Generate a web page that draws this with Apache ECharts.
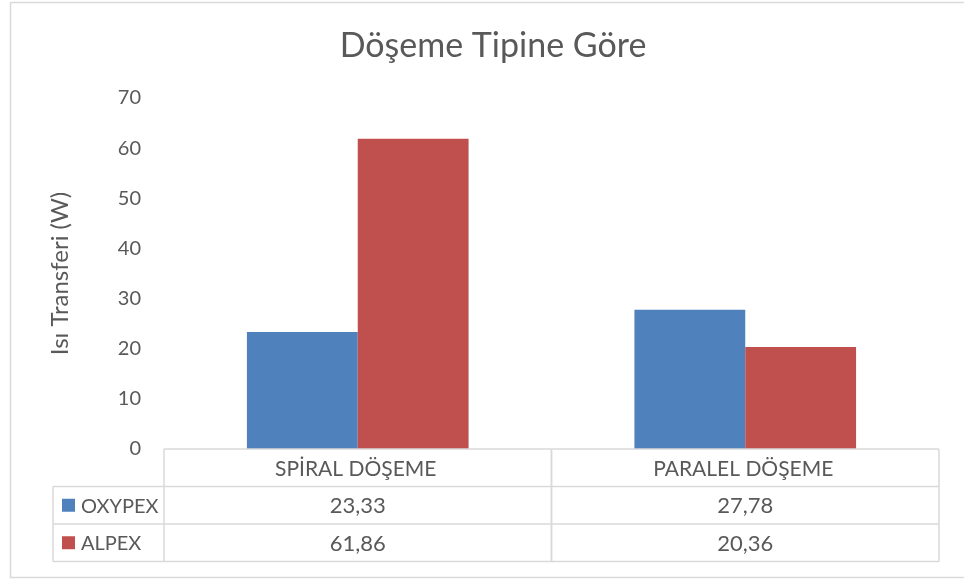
<!DOCTYPE html>
<html>
<head>
<meta charset="utf-8">
<script src="https://cdn.jsdelivr.net/npm/echarts@6/dist/echarts.min.js"></script>
<style>
  html, body { margin: 0; padding: 0; background: #fff; }
  #chart { width: 964px; height: 579px; }
</style>
</head>
<body>
<div id="chart"></div>
<script>
// Chart data
const categories = ['SPİRAL DÖŞEME', 'PARALEL DÖŞEME'];
const seriesNames = ['OXYPEX', 'ALPEX'];
const oxypexValues = [23.33, 27.78];
const alpexValues = [61.86, 20.36];
const seriesColors = ['#4F81BD', '#C0504D'];

const titleText = 'Döşeme Tipine Göre';
const yAxisTitle = 'Isı Transferi (W)';

const FONT = 'Lato';
const TEXT = '#595959';
const LINE = '#d9d9d9';
const ROW_H = 37.5;
const KEY_COL_W = 111;

const seriesValues = [oxypexValues, alpexValues];
const fmt = v => v.toFixed(2).replace('.', ',');

function hLine(x1, x2, y) {
  return { type: 'line', shape: { x1, y1: y, x2, y2: y }, style: { stroke: LINE, lineWidth: 1.5 } };
}
function vLine(x, y1, y2) {
  return { type: 'line', shape: { x1: x, y1, x2: x, y2 }, style: { stroke: LINE, lineWidth: 1.5 } };
}
function cellText(x, y, text, align, size) {
  return {
    type: 'text',
    style: { x, y, text, fill: TEXT, font: (size || 21) + 'px ' + FONT, align: align || 'center', verticalAlign: 'middle' }
  };
}

// Data table drawn under the category axis, one column per category
function renderTable(params, api) {
  const idx = api.value(0);
  const base = api.coord([idx, 0]);
  const catW = api.size([1, 0])[0];
  const left = base[0] - catW / 2;
  const right = base[0] + catW / 2;
  const top = base[1];
  const bottom = top + ROW_H * 3;
  const children = [];

  for (let k = 0; k <= 3; k++) children.push(hLine(left, right, top + k * ROW_H));
  children.push(vLine(left, top, bottom));
  children.push(vLine(right, top, bottom));

  children.push(cellText(base[0] - 2, top + ROW_H / 2 + 1, categories[idx]));
  seriesValues.forEach((vals, s) => {
    children.push(cellText(base[0], top + ROW_H * (s + 1.5) + 1, fmt(vals[idx]), 'center', 22));
  });

  if (idx === 0) {
    const kLeft = left - KEY_COL_W;
    for (let k = 1; k <= 3; k++) children.push(hLine(kLeft, left, top + k * ROW_H));
    children.push(vLine(kLeft, top + ROW_H, bottom));
    seriesNames.forEach((name, s) => {
      const cy = top + ROW_H * (s + 1.5);
      children.push({
        type: 'rect',
        shape: { x: kLeft + 9, y: cy - 6.5, width: 13, height: 13 },
        style: { fill: seriesColors[s] }
      });
      children.push(cellText(kLeft + 28, cy + 1, name, 'left', 20));
    });
  }
  return { type: 'group', children };
}

const chart = echarts.init(document.getElementById('chart'), null, { renderer: 'canvas' });

chart.setOption({
  backgroundColor: '#fff',
  animation: false,
  textStyle: { fontFamily: FONT },
  title: {
    text: titleText,
    left: 488,
    textAlign: 'center',
    top: 24,
    textStyle: { color: TEXT, fontSize: 34, fontWeight: 'normal', fontFamily: FONT }
  },
  graphic: [{
    type: 'rect',
    left: 8, top: 0,
    shape: { width: 970, height: 575 },
    style: { fill: 'none', stroke: LINE, lineWidth: 1.5 },
    silent: true, z: -1
  }],
  grid: { left: 164, right: 25, top: 98, bottom: 130 },
  xAxis: {
    type: 'category',
    data: categories,
    axisLine: { show: false },
    axisTick: { show: false },
    axisLabel: { show: false },
    splitLine: { show: false }
  },
  yAxis: {
    type: 'value',
    min: 0, max: 70, interval: 10,
    name: yAxisTitle,
    nameLocation: 'middle',
    nameGap: 92,
    nameRotate: 90,
    nameTextStyle: { color: TEXT, fontSize: 24, fontFamily: FONT },
    axisLine: { show: false },
    axisTick: { show: false },
    splitLine: { show: false },
    axisLabel: { color: TEXT, fontSize: 20, margin: 23, fontFamily: FONT }
  },
  series: [
    {
      name: seriesNames[0], type: 'bar', data: oxypexValues,
      barWidth: '28.6%', barGap: '0%',
      itemStyle: { color: seriesColors[0] }
    },
    {
      name: seriesNames[1], type: 'bar', data: alpexValues,
      barWidth: '28.6%', barGap: '0%',
      itemStyle: { color: seriesColors[1] }
    },
    {
      name: 'table', type: 'custom',
      data: categories.map((c, i) => [i, 0]),
      encode: { x: 0, y: 1 },
      renderItem: renderTable,
      clip: false, silent: true, z: 5
    }
  ]
});
</script>
</body>
</html>
